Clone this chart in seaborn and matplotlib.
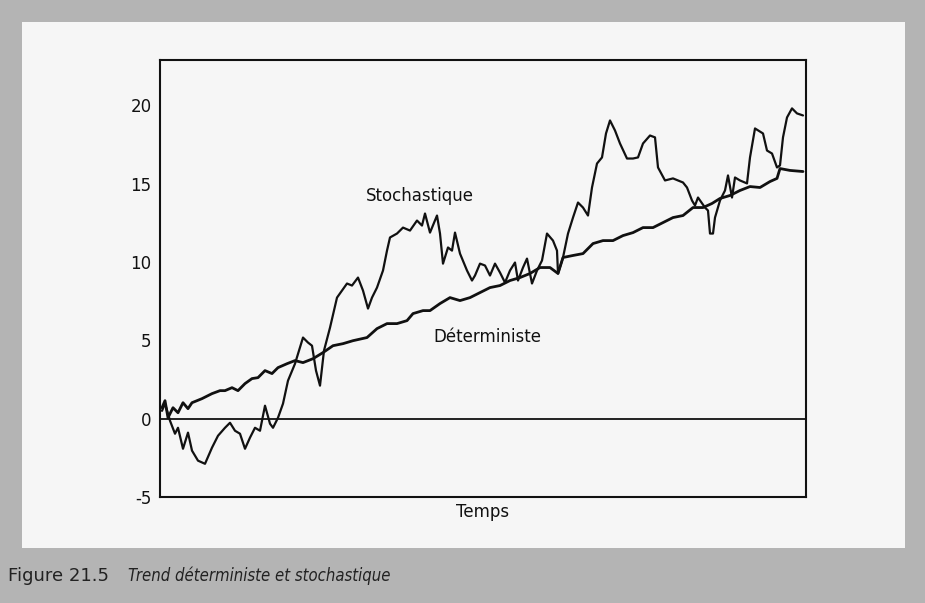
import pandas as pd
import matplotlib.pyplot as plt
import matplotlib.patches as patches
import seaborn as sns

# temps (indice arbitraire) et valeurs
stoch_t = [0, 3, 8, 13, 16, 21, 26, 30, 36, 43, 50, 56, 63, 68, 73, 78, 83, 88, 93, 98,
           103, 108, 111, 116, 121, 126, 133, 141, 146, 150, 154, 158, 162, 168, 175, 180,
           185, 190, 196, 201, 206, 210, 215, 221, 225, 228, 235, 241, 248, 255, 260, 263,
           268, 275, 278, 281, 286, 290, 293, 298, 305, 310, 313, 318, 323, 328, 333, 338,
           343, 348, 353, 356, 361, 365, 370, 375, 380, 385, 391, 395, 396, 401, 406, 411,
           416, 421, 426, 430, 435, 440, 444, 448, 453, 458, 465, 471, 476, 481, 488, 493,
           496, 503, 511, 521, 525, 530, 533, 536, 543, 546, 548, 551, 553, 558, 563, 566,
           570, 573, 578, 585, 588, 593, 601, 605, 610, 615, 618, 621, 625, 630, 635, 641]
stoch_val = [0.5, 0.96, -0.13, -0.96, -0.58, -1.92, -0.89, -2.04, -2.68, -2.88, -1.85, -1.09,
             -0.58, -0.26, -0.77, -0.96, -1.92, -1.21, -0.58, -0.77, 0.83, -0.32, -0.58, 0.06,
             0.96, 2.43, 3.51, 5.18, 4.86, 4.66, 3.07, 2.11, 4.35, 5.81, 7.73, 8.18, 8.63, 8.5,
             9.01, 8.18, 7.03, 7.73, 8.37, 9.46, 10.73, 11.57, 11.82, 12.2, 12.01, 12.65, 12.33,
             13.1, 11.88, 12.97, 11.82, 9.9, 10.93, 10.73, 11.88, 10.54, 9.46, 8.82, 9.14, 9.9,
             9.78, 9.14, 9.9, 9.33, 8.69, 9.46, 9.97, 8.82, 9.65, 10.22, 8.63, 9.46, 10.1, 11.82,
             11.37, 10.73, 9.27, 10.29, 11.82, 12.84, 13.8, 13.48, 12.97, 14.76, 16.29, 16.68,
             18.21, 19.04, 18.4, 17.57, 16.61, 16.61, 16.68, 17.57, 18.08, 17.96, 16.04, 15.21,
             15.34, 15.08, 14.76, 13.93, 13.61, 14.12, 13.48, 13.29, 11.82, 11.82, 12.84, 13.93,
             14.57, 15.53, 14.12, 15.4, 15.21, 15.02, 16.68, 18.53, 18.21, 17.12, 16.93, 16.04,
             16.17, 17.96, 19.23, 19.81, 19.49, 19.36]

det_t = [0, 3, 6, 11, 16, 21, 26, 30, 40, 50, 58, 63, 70, 76, 83, 90, 96, 103, 110, 116,
         125, 133, 141, 151, 161, 171, 181, 191, 205, 215, 225, 235, 245, 251, 261, 268, 278,
         288, 298, 308, 318, 328, 338, 348, 358, 368, 378, 388, 396, 401, 411, 421, 431, 441,
         451, 461, 471, 481, 491, 501, 511, 521, 531, 541, 550, 558, 568, 578, 588, 598, 608,
         615, 618, 628, 641]
det_val = [0.7, 1.15, 0.06, 0.7, 0.38, 1.02, 0.64, 1.02, 1.28, 1.6, 1.79, 1.79, 1.98, 1.79,
           2.24, 2.56, 2.62, 3.07, 2.88, 3.26, 3.51, 3.71, 3.58, 3.83, 4.22, 4.66, 4.79, 4.98,
           5.18, 5.75, 6.07, 6.07, 6.26, 6.71, 6.9, 6.9, 7.35, 7.73, 7.54, 7.73, 8.05, 8.37,
           8.5, 8.82, 9.01, 9.27, 9.65, 9.65, 9.27, 10.29, 10.42, 10.54, 11.18, 11.37, 11.37,
           11.69, 11.88, 12.2, 12.2, 12.52, 12.84, 12.97, 13.48, 13.48, 13.74, 14.06, 14.25,
           14.57, 14.82, 14.76, 15.14, 15.34, 15.97, 15.85, 15.78]

y_ticks = [-5, 0, 5, 10, 15, 20]

stoch = pd.DataFrame({'temps': stoch_t, 'valeur': stoch_val})
det = pd.DataFrame({'temps': det_t, 'valeur': det_val})

sns.set_style('white')
plt.rcParams['font.family'] = ['DejaVu Sans']
plt.rcParams['axes.unicode_minus'] = False  # "-5" avec un tiret simple

fig = plt.figure(figsize=(9.25, 6.03), dpi=100)
fig.patch.set_facecolor('#b4b4b4')
# la page blanche du livre
fig.add_artist(patches.Rectangle((22 / 925, 1 - 548 / 603), 883 / 925, 526 / 603,
                                 transform=fig.transFigure, facecolor='#f6f6f6',
                                 edgecolor='none', zorder=0))

ax = fig.add_axes([160 / 925, 1 - 497 / 603, 646 / 925, 437 / 603])
ax.set_facecolor('#f6f6f6')

sns.lineplot(data=stoch, x='temps', y='valeur', color='#111111', linewidth=1.6, ax=ax)
sns.lineplot(data=det, x='temps', y='valeur', color='#111111', linewidth=2.0, ax=ax)
ax.axhline(0, color='#111111', linewidth=1.3)

ax.set_xlim(-2, 644)
ax.set_ylim(-5, 22.9)
ax.set_yticks(y_ticks)
ax.set_xticks([])
ax.tick_params(axis='y', direction='in', length=6, width=1.2, labelsize=12,
               colors='#111111', pad=6)
for s in ax.spines.values():
    s.set_color('#111111')
    s.set_linewidth(1.5)

ax.set_xlabel('Temps', fontsize=12, color='#111111', labelpad=4)
ax.set_ylabel('')

ax.text(258, 14.2, 'Stochastique', fontsize=12, ha='center', va='center', color='#111111')
ax.text(325, 5.2, 'Déterministe', fontsize=12, ha='center', va='center', color='#111111')

fig.text(8 / 925, 1 - 576 / 603, 'Figure 21.5', fontsize=13, color='#222222',
         ha='left', va='center')
fig.text(128 / 925, 1 - 576 / 603, 'Trend déterministe et stochastique', fontsize=12,
         style='italic', color='#222222', ha='left', va='center', fontstretch='condensed')

plt.savefig('out.png', dpi=100, facecolor=fig.get_facecolor())
